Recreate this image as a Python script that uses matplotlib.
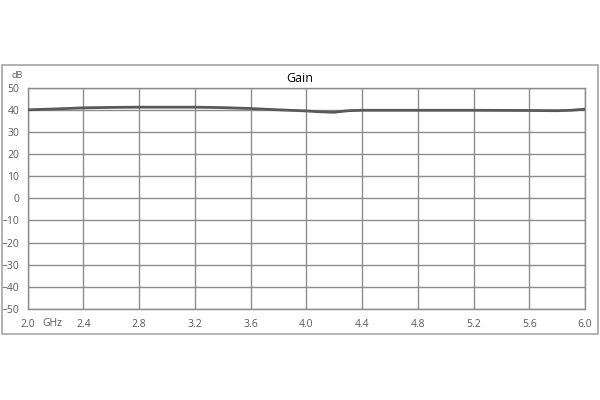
import matplotlib.pyplot as plt
from matplotlib.patches import Rectangle

# frequency (GHz) and gain (dB)
freq = [2.0, 2.2, 2.4, 2.6, 2.8, 3.0, 3.2, 3.4, 3.6, 3.8, 4.0, 4.1, 4.2, 4.3,
        4.4, 4.8, 5.2, 5.6, 5.8, 5.9, 6.0]
gain = [40.0, 40.4, 40.9, 41.1, 41.2, 41.2, 41.2, 41.0, 40.6, 40.0, 39.5,
        39.1, 38.9, 39.6, 39.8, 39.8, 39.8, 39.7, 39.6, 39.8, 40.3]

x_ticks = [2.0, 2.4, 2.8, 3.2, 3.6, 4.0, 4.4, 4.8, 5.2, 5.6, 6.0]
x_labels = ['2.0', '2.4', '2.8', '3.2', '3.6', '4.0', '4.4', '4.8',
            '5.2', '5.6', '6.0']
y_ticks = list(range(-50, 51, 10))

plt.rcParams['font.family'] = ['Open Sans', 'DejaVu Sans']

W, H = 600, 400
fig = plt.figure(figsize=(6, 4), dpi=100)
ax = fig.add_axes([27.7 / W, 1 - 309 / H, (585 - 27.7) / W, (309 - 87.7) / H])

# outer chart frame
fig.patches.append(Rectangle((1.5 / W, 1 - 334 / H), 596.5 / W, 269 / H,
                             transform=fig.transFigure, fill=False,
                             edgecolor='#a6a6a6', linewidth=1.2))

ax.plot(freq, gain, color='#595959', linewidth=2, solid_capstyle='round', zorder=3)

ax.set_xlim(2.0, 6.0)
ax.set_ylim(-50, 50)
ax.set_xticks(x_ticks)
ax.set_xticklabels(x_labels)
ax.set_yticks(y_ticks)
ax.grid(True, color='#8c8c8c', linewidth=1.0)
ax.tick_params(length=0, labelsize=7.5, labelcolor='#595959', pad=6)
ax.tick_params(axis='x', pad=7)
for s in ax.spines.values():
    s.set_color('#8c8c8c')
    s.set_linewidth(1.0)

fig.text(300 / W, 1 - 78 / H, 'Gain', ha='center', va='center', fontsize=9,
         color='black')
fig.text(11 / W, 1 - 75 / H, 'dB', ha='left', va='center', fontsize=6.5,
         color='#595959')
fig.text(42 / W, 1 - 323 / H, 'GHz', ha='left', va='center', fontsize=7.5,
         color='#595959')

fig.savefig('out.png', dpi=100)
